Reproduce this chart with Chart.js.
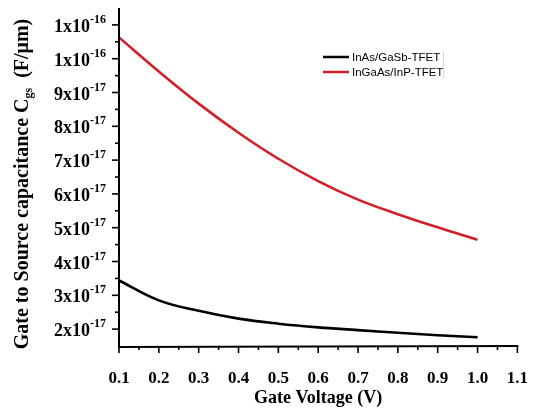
<!DOCTYPE html>
<html>
<head>
<meta charset="utf-8">
<script src="https://cdn.jsdelivr.net/npm/chart.js@4/dist/chart.umd.min.js"></script>
<style>
html,body{margin:0;padding:0;background:#fff;}
#c{display:block;}
</style>
</head>
<body>
<canvas id="c" width="550" height="412"></canvas>
<script>
// ---- data ----
const gateVoltage = [0.1, 0.2, 0.3, 0.4, 0.5, 0.6, 0.7, 0.8, 0.9, 1.0];
const cgsInAsGaSb = [3.44e-17, 2.85e-17, 2.54e-17, 2.31e-17, 2.16e-17, 2.05e-17, 1.97e-17, 1.89e-17, 1.82e-17, 1.76e-17];
const cgsInGaAsInP = [1.063e-16, 9.62e-17, 8.67e-17, 7.81e-17, 7.04e-17, 6.38e-17, 5.83e-17, 5.40e-17, 5.01e-17, 4.64e-17];
const seriesLabels = ['InAs/GaSb-TFET', 'InGaAs/InP-TFET'];
const xTickValues = [0.1, 0.2, 0.3, 0.4, 0.5, 0.6, 0.7, 0.8, 0.9, 1.0, 1.1];
const xTickLabels = ['0.1', '0.2', '0.3', '0.4', '0.5', '0.6', '0.7', '0.8', '0.9', '1.0', '1.1'];
const yTickValues = [2e-17, 3e-17, 4e-17, 5e-17, 6e-17, 7e-17, 8e-17, 9e-17, 1e-16, 1.1e-16];
const yTickMantissa = ['2x10', '3x10', '4x10', '5x10', '6x10', '7x10', '8x10', '9x10', '1x10', '1x10'];
const yTickExponent = ['-17', '-17', '-17', '-17', '-17', '-17', '-17', '-17', '-16', '-16'];
const xAxisTitle = 'Gate Voltage (V)';
const yAxisTitleMain = 'Gate to Source capacitance C';
const yAxisTitleSub = 'gs';
const yAxisTitleUnit = '  (F/\u03bcm)';

const SERIF = '"Liberation Serif", "Times New Roman", serif';
const SANS = '"Liberation Sans", Arial, sans-serif';
const seriesColors = ['#000000', '#d2202a'];

const toPoints = (ys) => gateVoltage.map((x, i) => ({x: x, y: ys[i]}));

const axesPlugin = {
  id: 'customAxes',
  afterDraw(chart) {
    const ctx = chart.ctx;
    const xs = chart.scales.x, ys = chart.scales.y;
    const area = chart.chartArea;
    ctx.save();
    ctx.strokeStyle = '#000';
    ctx.lineWidth = 2;
    ctx.lineCap = 'butt';
    // axis lines
    ctx.beginPath();
    ctx.moveTo(area.left, area.top);
    ctx.lineTo(area.left, area.bottom + 1);
    ctx.lineTo(area.right + 1, area.bottom);
    ctx.stroke();
    // x ticks
    ctx.lineWidth = 1.6;
    xTickValues.forEach((v, i) => {
      const px = xs.getPixelForValue(v);
      ctx.beginPath(); ctx.moveTo(px, area.bottom); ctx.lineTo(px, area.bottom + 7); ctx.stroke();
      if (i < xTickValues.length - 1) {
        const mx = xs.getPixelForValue((v + xTickValues[i + 1]) / 2);
        ctx.beginPath(); ctx.moveTo(mx, area.bottom); ctx.lineTo(mx, area.bottom + 4); ctx.stroke();
      }
    });
    // y ticks
    yTickValues.forEach((v, i) => {
      const py = ys.getPixelForValue(v);
      ctx.beginPath(); ctx.moveTo(area.left, py); ctx.lineTo(area.left - 7, py); ctx.stroke();
      if (i < yTickValues.length - 1) {
        const my = ys.getPixelForValue((v + yTickValues[i + 1]) / 2);
        ctx.beginPath(); ctx.moveTo(area.left, my); ctx.lineTo(area.left - 4, my); ctx.stroke();
      }
    });
    // y tick labels with superscript exponents
    ctx.fillStyle = '#000';
    ctx.textBaseline = 'alphabetic';
    const rightEdge = area.left - 13;
    yTickValues.forEach((v, i) => {
      const py = ys.getPixelForValue(v);
      ctx.font = 'bold 12px ' + SERIF;
      const ew = ctx.measureText(yTickExponent[i]).width;
      ctx.textAlign = 'left';
      ctx.fillText(yTickExponent[i], rightEdge - ew, py - 2);
      ctx.font = 'bold 18px ' + SERIF;
      ctx.textAlign = 'right';
      ctx.fillText(yTickMantissa[i], rightEdge - ew, py + 7);
    });
    // y axis title (rotated, with subscript)
    ctx.save();
    const cx = 28, cy = (area.top + area.bottom) / 2 + 7;
    ctx.translate(cx, cy);
    ctx.rotate(-Math.PI / 2);
    const fMain = 'bold 20px ' + SERIF, fSub = 'bold 12px ' + SERIF;
    ctx.font = fMain;
    const w1 = ctx.measureText(yAxisTitleMain).width;
    const w3 = ctx.measureText(yAxisTitleUnit).width;
    ctx.font = fSub;
    const w2 = ctx.measureText(yAxisTitleSub).width;
    let x0 = -(w1 + w2 + w3) / 2;
    ctx.textAlign = 'left';
    ctx.textBaseline = 'alphabetic';
    ctx.font = fMain; ctx.fillText(yAxisTitleMain, x0, 0); x0 += w1;
    ctx.font = fSub; ctx.fillText(yAxisTitleSub, x0, 4); x0 += w2;
    ctx.font = fMain; ctx.fillText(yAxisTitleUnit, x0, 0);
    ctx.restore();
    // legend
    const legendX = 323, legendY = [57, 72];
    ctx.font = '11.5px ' + SANS;
    ctx.textAlign = 'left';
    ctx.textBaseline = 'middle';
    chart.data.datasets.forEach((ds, i) => {
      ctx.strokeStyle = ds.borderColor;
      ctx.lineWidth = 2.5;
      ctx.beginPath(); ctx.moveTo(legendX, legendY[i]); ctx.lineTo(legendX + 26, legendY[i]); ctx.stroke();
      ctx.fillStyle = '#000';
      ctx.fillText(ds.label, legendX + 29, legendY[i] + 0.5);
    });
    ctx.strokeStyle = '#d6d6d6';
    ctx.lineWidth = 1;
    ctx.beginPath(); ctx.moveTo(443.5, 51); ctx.lineTo(443.5, 78); ctx.stroke();
    ctx.restore();
  }
};

new Chart(document.getElementById('c'), {
  type: 'line',
  data: {
    datasets: [
      {label: seriesLabels[0], data: toPoints(cgsInAsGaSb), borderColor: seriesColors[0], borderWidth: 2.6, pointRadius: 0, fill: false, tension: 0.4},
      {label: seriesLabels[1], data: toPoints(cgsInGaAsInP), borderColor: seriesColors[1], borderWidth: 2.6, pointRadius: 0, fill: false, tension: 0.4}
    ]
  },
  options: {
    responsive: false,
    animation: false,
    devicePixelRatio: 1,
    layout: {padding: {top: 8, right: 15, left: 0, bottom: 0}},
    plugins: {legend: {display: false}, tooltip: {enabled: false}},
    scales: {
      x: {
        type: 'linear', min: 0.1, max: 1.1,
        afterBuildTicks: (s) => { s.ticks = xTickValues.map(v => ({value: v})); },
        ticks: {
          callback: (v) => { const i = xTickValues.findIndex(t => Math.abs(t - v) < 1e-9); return i >= 0 ? xTickLabels[i] : ''; },
          font: {family: SERIF, size: 17, weight: 'bold'}, color: '#000', padding: 22, maxRotation: 0, autoSkip: false
        },
        grid: {display: false, drawTicks: false},
        border: {display: false},
        title: {display: true, text: xAxisTitle, color: '#000', font: {family: SERIF, size: 18, weight: 'bold'}, padding: {top: 0, bottom: 3}},
        afterFit: (s) => { s.height = 66; }
      },
      y: {
        type: 'linear', min: 1.5e-17, max: 1.15e-16,
        afterBuildTicks: (s) => { s.ticks = yTickValues.map(v => ({value: v})); },
        ticks: {display: false},
        grid: {display: false, drawTicks: false},
        border: {display: false},
        afterFit: (s) => { s.width = 119; }
      }
    }
  },
  plugins: [axesPlugin]
});
</script>
</body>
</html>
